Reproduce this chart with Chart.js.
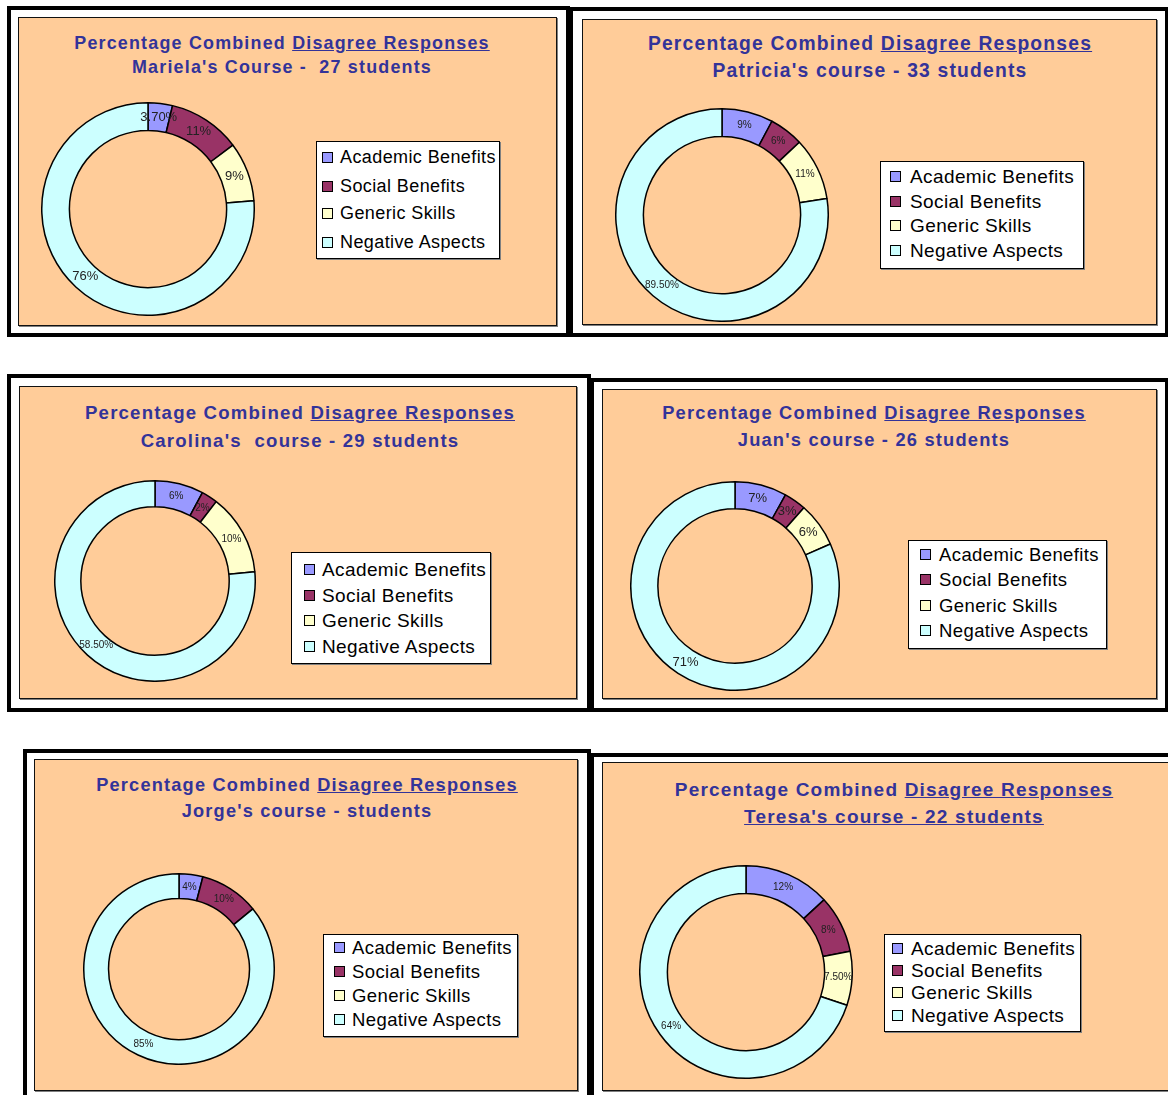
<!DOCTYPE html>
<html>
<head>
<meta charset="utf-8">
<script src="https://cdn.jsdelivr.net/npm/chart.js@4.4.0/dist/chart.umd.min.js"></script>
<style>
  html, body { margin: 0; padding: 0; background: #fff; }
  body { width: 1168px; height: 1095px; position: relative; overflow: hidden; font-family: "Liberation Sans", Arial, sans-serif; }
  .frame { position: absolute; border: 4px solid #000; box-sizing: border-box; }
  .plot { position: absolute; background: #FFCC99; border: 1px solid #111; box-sizing: border-box; box-shadow: 1px 1px 0 #808080; }
  .title { position: absolute; width: 560px; text-align: center; color: #333399; font-weight: bold; white-space: pre; line-height: 24px; letter-spacing: 1.2px; }
  .legend { position: absolute; background: #fff; border: 1px solid #000; box-sizing: border-box; box-shadow: 1px 1px 0 #808080; }
  .row { position: absolute; white-space: pre; color: #000; letter-spacing: 0.4px; }
  .swatch { position: absolute; width: 11px; height: 11px; border: 1px solid #000; box-sizing: border-box; }
  .pie { position: absolute; }
</style>
</head>
<body>
<script>
// categories and colours shared by all six doughnuts
const categories = ["Academic Benefits", "Social Benefits", "Generic Skills", "Negative Aspects"];
const sliceColors = ["#9999FF", "#993366", "#FFFFCC", "#CCFFFF"];
const headline = ["Percentage Combined ", "Disagree Responses"];

// one subtitle and one value list per course (values as printed on the slices)
const courseNames = [
  "Mariela's Course -  27 students",
  "Patricia's course - 33 students",
  "Carolina's  course - 29 students",
  "Juan's course - 26 students",
  "Jorge's course - students",
  "Teresa's course - 22 students"
];
const marielaValues  = [3.7, 11, 9, 76];
const patriciaValues = [9, 6, 11, 89.5];
const carolinaValues = [6, 2, 10, 58.5];
const juanValues     = [7, 3, 6, 71];
const jorgeValues    = [4, 10, 0, 85];
const teresaValues   = [12, 8, 7.5, 64];

const courseValues = [marielaValues, patriciaValues, carolinaValues, juanValues, jorgeValues, teresaValues];

// layout of each panel on the page
const panels = [
  { frame: [7, 6, 563, 331], plot: [18, 17, 539, 309], tx: 282, ty: [43, 67], ts: 17.9,
    cx: 147.5, cy: 209, r: 106, ls: 13,
    legend: { box: [316, 141, 184, 118], rows: [157, 186, 213, 242], sx: 322, tx: 340, fs: 18 } },
  { frame: [569, 7, 600, 330], plot: [582, 19, 575, 306], tx: 870, ty: [44, 71], ts: 19.3,
    cx: 721.5, cy: 214.5, r: 106, ls: 10,
    legend: { box: [880, 161, 204, 108], rows: [176, 201, 225, 250], sx: 890, tx: 910, fs: 19 } },
  { frame: [7, 374, 584, 338], plot: [19, 386, 558, 313], tx: 300, ty: [413, 441], ts: 18.6,
    cx: 154.5, cy: 581, r: 100, ls: 10,
    legend: { box: [291, 552, 200, 112], rows: [569, 595, 620, 646], sx: 304, tx: 322, fs: 19 } },
  { frame: [590, 378, 579, 334], plot: [602, 389, 555, 310], tx: 874, ty: [413, 440], ts: 18.3,
    cx: 735, cy: 586, r: 104, ls: 13,
    legend: { box: [908, 540, 199, 109], rows: [554, 579, 605, 630], sx: 920, tx: 939, fs: 18.5 } },
  { frame: [23, 749, 568, 380], plot: [34, 759, 544, 332], tx: 307, ty: [785, 811], ts: 18.2,
    cx: 179, cy: 969, r: 95, ls: 10,
    legend: { box: [323, 934, 195, 103], rows: [947, 971, 995, 1019], sx: 334, tx: 352, fs: 18.5 } },
  { frame: [590, 753, 620, 380], plot: [602, 762, 580, 329], tx: 894, ty: [790, 817], ts: 19.0,
    cx: 746, cy: 971.5, r: 106, ls: 10, underlineSub: true,
    legend: { box: [884, 934, 197, 98], rows: [948, 970, 992, 1015], sx: 892, tx: 911, fs: 19 } }
];

const fmtPct = (v) => Number.isInteger(v) ? v + "%" : v.toFixed(2) + "%";

const box = (cls, r) => {
  const d = document.createElement("div");
  d.className = cls;
  d.style.left = r[0] + "px";
  d.style.top = r[1] + "px";
  d.style.width = r[2] + "px";
  d.style.height = r[3] + "px";
  document.body.appendChild(d);
  return d;
};

// percent labels in the middle of each ring segment
const pctLabels = {
  id: "pctLabels",
  afterDatasetsDraw(chart, args, opts) {
    const ctx = chart.ctx;
    const data = chart.data.datasets[0].data;
    chart.getDatasetMeta(0).data.forEach((arc, i) => {
      if (!data[i]) return;
      const p = arc.tooltipPosition();
      ctx.save();
      ctx.font = opts.size + 'px "Liberation Sans", Arial, sans-serif';
      ctx.fillStyle = "#222";
      ctx.textAlign = "center";
      ctx.textBaseline = "middle";
      ctx.fillText(fmtPct(data[i]), p.x, p.y);
      ctx.restore();
    });
  }
};

panels.forEach((p, k) => {
  box("frame", p.frame);
  box("plot", p.plot);

  // title, two lines
  const t1 = document.createElement("div");
  t1.className = "title";
  t1.style.left = (p.tx - 280) + "px";
  t1.style.top = (p.ty[0] - 12) + "px";
  t1.style.fontSize = p.ts + "px";
  t1.innerHTML = headline[0] + "<u>" + headline[1] + "</u>";
  document.body.appendChild(t1);

  const t2 = document.createElement("div");
  t2.className = "title";
  t2.style.left = (p.tx - 280) + "px";
  t2.style.top = (p.ty[1] - 12) + "px";
  t2.style.fontSize = p.ts + "px";
  if (p.underlineSub) t2.style.textDecoration = "underline";
  t2.textContent = courseNames[k];
  document.body.appendChild(t2);

  // legend
  const lg = p.legend;
  box("legend", lg.box);
  categories.forEach((c, i) => {
    const sw = document.createElement("div");
    sw.className = "swatch";
    sw.style.left = lg.sx + "px";
    sw.style.top = (lg.rows[i] - 5) + "px";
    sw.style.background = sliceColors[i];
    document.body.appendChild(sw);

    const row = document.createElement("div");
    row.className = "row";
    const lh = Math.round(lg.fs + 4);
    row.style.left = lg.tx + "px";
    row.style.top = (lg.rows[i] - lh / 2) + "px";
    row.style.lineHeight = lh + "px";
    row.style.fontSize = lg.fs + "px";
    row.textContent = c;
    document.body.appendChild(row);
  });

  // doughnut
  const size = 2 * p.r + 2;
  const holder = box("pie", [p.cx - p.r - 1, p.cy - p.r - 1, size, size]);
  const canvas = document.createElement("canvas");
  holder.appendChild(canvas);

  new Chart(canvas, {
    type: "doughnut",
    data: {
      labels: categories,
      datasets: [{
        data: courseValues[k],
        backgroundColor: sliceColors,
        borderColor: "#000",
        borderWidth: 1.5
      }]
    },
    options: {
      animation: false,
      responsive: true,
      maintainAspectRatio: false,
      cutout: "74%",
      layout: { padding: 0 },
      plugins: {
        legend: { display: false },
        tooltip: { enabled: false },
        pctLabels: { size: p.ls }
      }
    },
    plugins: [pctLabels]
  });
});
</script>
</body>
</html>
